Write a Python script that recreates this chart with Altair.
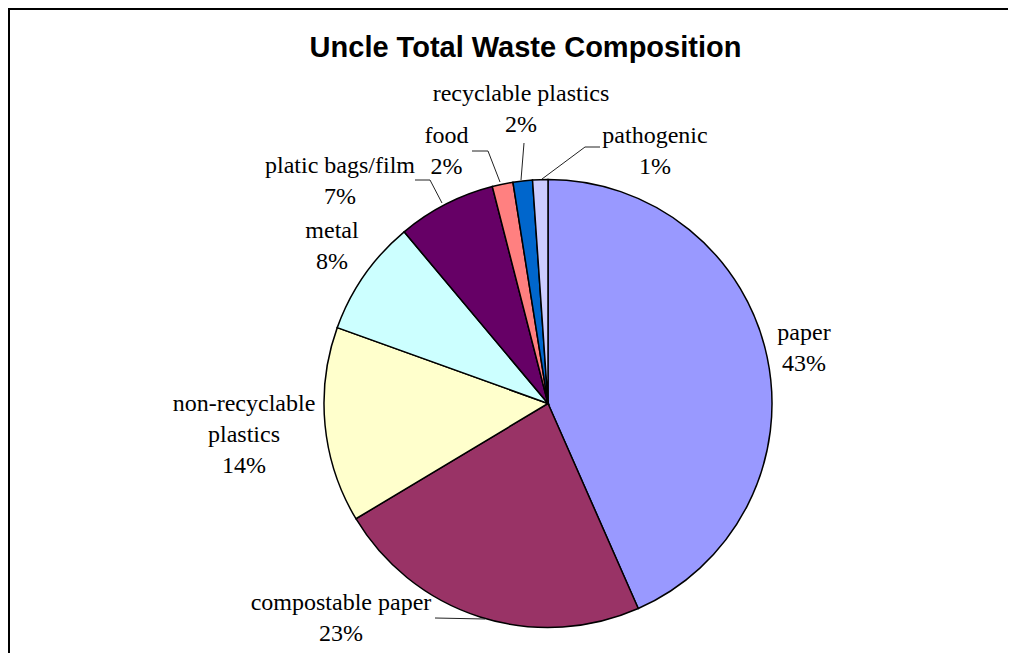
import altair as alt
import pandas as pd

# ---- data ----
categories = ["paper", "compostable paper", "non-recyclable plastics", "metal",
              "platic bags/film", "food", "recyclable plastics", "pathogenic"]
shares = [43.4, 23.0, 14.1, 8.4, 7.1, 1.5, 1.4, 1.1]
pct_labels = ["43%", "23%", "14%", "8%", "7%", "2%", "2%", "1%"]
label_names = ["paper", "compostable paper", "non-recyclable\nplastics", "metal",
               "platic bags/film", "food", "recyclable plastics", "pathogenic"]
colors = ["#9999FF", "#993366", "#FFFFCC", "#CCFFFF",
          "#660066", "#FF8080", "#0066CC", "#CCCCFF"]
title_text = "Uncle Total Waste Composition"

# ---- layout (pixels in the plot area) ----
W, H = 1000, 645
cx, cy, R = 540, 395.5, 224
label_x = [796, 333, 236, 324, 332, 438.5, 513, 647]
label_y = [332, 602, 403, 230, 165, 135, 93, 135]
# leader line segments (x, y, x2, y2)
leaders = [
    (427, 610, 477, 611),
    (407, 172, 422, 172), (422, 172, 434, 195),
    (464, 143, 480, 143), (480, 143, 492, 174),
    (516, 135, 513, 172),
    (592, 139, 577, 139), (577, 139, 534, 171),
]

pie_df = pd.DataFrame({"category": categories, "share": shares,
                       "idx": list(range(len(categories)))})
lab_df = pd.DataFrame({"text": [n + "\n" + p for n, p in zip(label_names, pct_labels)],
                       "lx": label_x, "ly": label_y})
lead_df = pd.DataFrame(leaders, columns=["x", "y", "x2", "y2"])
border_df = pd.DataFrame({"x": [0, 1], "y": [1, 0], "x2": [W + 5, 1], "y2": [1, H]})
title_df = pd.DataFrame({"t": [title_text], "x": [517.5], "y": [49.3]})

pie = alt.Chart(pie_df).mark_arc(outerRadius=R, stroke="black", strokeWidth=1.5).encode(
    theta=alt.Theta("share:Q", stack=True),
    color=alt.Color("category:N", scale=alt.Scale(domain=categories, range=colors), legend=None),
    order=alt.Order("idx:Q"),
    x=alt.value(cx), y=alt.value(cy),
)

labels = alt.Chart(lab_df).mark_text(
    font="Liberation Serif", fontSize=24, lineBreak="\n", lineHeight=31,
    align="center", baseline="alphabetic", color="black"
).encode(
    x=alt.X("lx:Q", scale=None), y=alt.Y("ly:Q", scale=None), text="text:N"
)

lead = alt.Chart(lead_df).mark_rule(color="#222222", strokeWidth=1).encode(
    x=alt.X("x:Q", scale=None), y=alt.Y("y:Q", scale=None),
    x2="x2:Q", y2="y2:Q"
)

border = alt.Chart(border_df).mark_rule(color="black", strokeWidth=2).encode(
    x=alt.X("x:Q", scale=None), y=alt.Y("y:Q", scale=None),
    x2="x2:Q", y2="y2:Q"
)

title = alt.Chart(title_df).mark_text(
    font="Liberation Sans", fontSize=29, fontWeight="bold",
    align="center", baseline="alphabetic", color="black"
).encode(x=alt.X("x:Q", scale=None), y=alt.Y("y:Q", scale=None), text="t:N")

chart = alt.layer(border, pie, lead, labels, title).properties(
    width=W, height=H, padding=0, autosize=alt.AutoSizeParams(type="none"),
    background="white"
).configure_view(strokeWidth=0, strokeOpacity=0, fill="white")

chart.save("out.html", embed_options={"renderer": "svg", "actions": False})
